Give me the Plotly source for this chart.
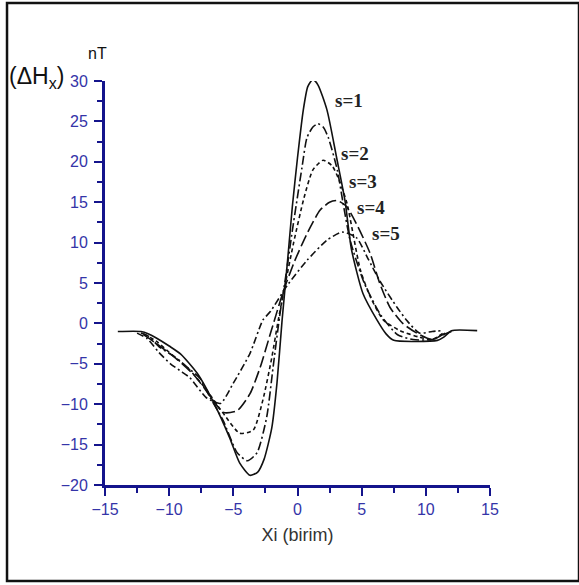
import plotly.graph_objects as go

# ---- data ----
s1_x = [-14, -12.2, -11.6, -11, -10, -9.1, -7.8, -6.5, -5.3, -4.5, -3.7, -3.1, -2.6, -2.0, -1.6, -1.2,
        -0.75, -0.4, 0.0, 0.45, 0.8, 1.2, 1.6, 2.3, 3.05, 3.7, 4.2, 5.1, 6.2, 6.9, 7.5, 10.9, 11.4, 12.0, 14]
s1_y = [-1, -1, -1.3, -1.8, -2.8, -3.8, -6.2, -9.9, -14.1, -17.3, -18.8, -18.4, -16.8, -12.9, -7.4, 0.4,
        8.2, 14.5, 20.5, 26.4, 29.3, 30.2, 29.5, 26.4, 20.5, 15.2, 9.2, 3.7, 0.4, -1.3, -2.1, -2.1, -1.7, -0.9, -0.9]

s2_x = [-12.2, -11.6, -10.7, -9.5, -8.6, -7.6, -6.8, -5.8, -4.7, -3.9, -3.15, -2.4, -1.9, -1.4, -0.9, -0.4,
        0.35, 0.74, 1.2, 1.6, 2.0, 2.4, 3.1, 3.55, 4.1, 5.2, 6.5, 7.8, 9.0, 10.5, 11.2, 12.0]
s2_y = [-1.2, -1.6, -3.0, -4.2, -5.4, -6.8, -9.2, -12.0, -16.0, -17.0, -16.0, -11.6, -5.4, 0.8, 6.0, 11.5,
        19.3, 23.0, 24.3, 24.7, 24.3, 23.0, 19.0, 14.9, 10.3, 5.0, 1.0, -1.4, -2.0, -2.0, -1.5, -1.0]

s3_x = [-12, -11, -9.7, -8.5, -7.2, -5.8, -4.5, -3.45, -2.7, -2.0, -1.5, -1.0, -0.3, 0.5, 1.2, 2.0,
        2.7, 3.3, 3.85, 4.9, 5.7, 6.7, 8.0, 9.5, 10.5, 11.5]
s3_y = [-1.3, -2.2, -4.0, -5.6, -8.0, -11.1, -13.6, -13.2, -9.5, -4.2, 0.4, 4.5, 10.0, 15.5, 19.0, 20.2,
        19.5, 17.5, 14.9, 6.6, 3.2, 0.4, -0.9, -1.7, -2.0, -1.0]

s4_x = [-12, -11, -9.5, -8, -6.8, -5.8, -4.7, -3.7, -2.9, -2.1, -1.1, -0.2, 0.74, 1.75, 2.5, 3.1,
        3.8, 4.6, 5.65, 6.4, 7.2, 8.2, 9.3, 10.5, 11.5]
s4_y = [-1.4, -2.5, -4.3, -6.5, -9.0, -11.0, -10.8, -8.7, -5.4, -1.2, 4.0, 7.8, 11.1, 14.0, 15.0, 15.2,
        14.5, 12.3, 8.7, 5.0, 2.0, 0.0, -1.2, -2.0, -1.2]

s5_x = [-12.5, -11.7, -10.8, -9.9, -9.2, -8.4, -7.1, -6.0, -5.0, -3.7, -2.7, -2.1, -0.8, 0.74, 2.3, 3.5,
        4.6, 5.5, 6.4, 7.75, 8.5, 9.5, 10.5, 11.2]
s5_y = [-1.2, -1.9, -3.6, -5.0, -5.8, -6.7, -9.2, -9.9, -7.4, -3.7, 0.4, 1.5, 4.7, 7.8, 10.3, 11.3,
        10.6, 8.0, 5.3, 2.0, 0.4, -1.2, -1.0, -0.9]

series_names = ["s=1", "s=2", "s=3", "s=4", "s=5"]
label_x = [4.0, 4.5, 5.1, 5.7, 6.9]
label_y = [27.6, 21.0, 17.6, 14.4, 11.1]

x_range = [-15, 15]
y_range = [-20, 30]

# ---- styles ----
NAVY = "#14148c"
TICKTXT = "#3434a8"
dashes = ["solid", "9px,3px,2px,3px", "4px,3px", "12px,4px", "7px,3px,2px,3px"]

fig = go.Figure()
for name, xs, ys, d in zip(series_names,
                           [s1_x, s2_x, s3_x, s4_x, s5_x],
                           [s1_y, s2_y, s3_y, s4_y, s5_y],
                           dashes):
    fig.add_trace(go.Scatter(x=xs, y=ys, mode="lines", name=name,
                             line=dict(color="#111111", width=1.6, dash=d,
                                       shape="spline", smoothing=0.6)))

for name, lx, ly in zip(series_names, label_x, label_y):
    fig.add_annotation(x=lx, y=ly, xref="x", yref="y", text="<b>%s</b>" % name,
                       showarrow=False, font=dict(family="Liberation Serif", size=19, color="#222"))

axis_common = dict(showline=True, linewidth=3, linecolor=NAVY, mirror=False,
                   ticks="outside", ticklen=8, tickwidth=2, tickcolor=NAVY,
                   showgrid=False, zeroline=False,
                   tickfont=dict(family="Liberation Sans", size=16, color=TICKTXT),
                   minor=dict(ticks="outside", ticklen=5, tickwidth=2, tickcolor=NAVY, dtick=2.5))

fig.update_xaxes(range=x_range, dtick=5, tick0=0, **axis_common,
                 title=dict(text="Xi (birim)", standoff=12,
                            font=dict(family="Liberation Sans", size=18, color="#333")))
fig.update_yaxes(range=y_range, dtick=5, tick0=0, ticklabelstandoff=3, **axis_common)

# y-axis title and unit
fig.add_annotation(xref="paper", yref="paper", x=-0.255, y=1.008, xanchor="left", yanchor="middle",
                   text="(ΔH<sub>x</sub>)", showarrow=False,
                   font=dict(family="Liberation Sans", size=23, color="#111"))
fig.add_annotation(xref="paper", yref="paper", x=-0.0195, y=1.068, xanchor="center", yanchor="middle",
                   text="nT", showarrow=False,
                   font=dict(family="Liberation Sans", size=16, color="#111"))

# outer frame
fig.add_shape(type="rect", xref="paper", yref="paper",
              x0=-0.2545, x1=1.2312, y0=-0.2376, y1=1.193,
              line=dict(color="#111", width=2.5), fillcolor="rgba(0,0,0,0)")

fig.update_layout(width=579, height=585, showlegend=False,
                  paper_bgcolor="white", plot_bgcolor="white",
                  margin=dict(l=105, r=89, t=81, b=100))

fig.write_html("out.html", config={"displayModeBar": False},
               post_script="document.body.style.margin='0';document.body.style.overflow='hidden';")
